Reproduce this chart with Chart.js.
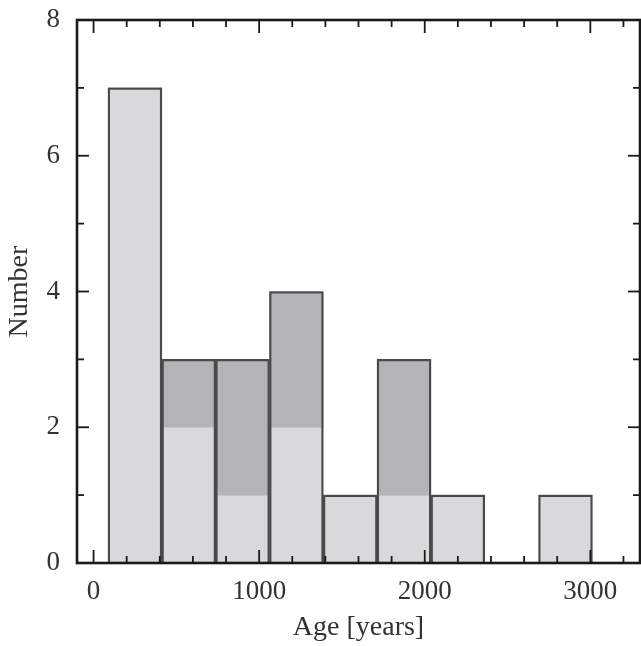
<!DOCTYPE html>
<html>
<head>
<meta charset="utf-8">
<script src="https://cdn.jsdelivr.net/npm/chart.js@4.4.0/dist/chart.umd.min.js"></script>
<style>
html,body{margin:0;padding:0;background:#fff;}
#wrap{width:641px;height:646px;}
</style>
</head>
<body>
<div id="wrap"><canvas id="c" width="641" height="646"></canvas></div>
<script>
// ---- data ----
const binCenters = [250, 575, 900, 1225, 1550, 1875, 2200, 2525, 2850]; // years
const lightCounts = [7, 2, 1, 2, 1, 1, 1, 0, 1];
const darkCounts  = [0, 1, 2, 2, 0, 2, 0, 0, 0];
const xMajorTicks = [0, 1000, 2000, 3000];
const xMinorTicks = [0,200,400,600,800,1000,1200,1400,1600,1800,2000,2200,2400,2600,2800,3000,3200];
const yMajorTicks = [0, 2, 4, 6, 8];
const yMinorTicks = [0,1,2,3,4,5,6,7,8];
const xLabel = 'Age [years]';
const yLabel = 'Number';

const totals = lightCounts.map((v,i)=>v+darkCounts[i]);
const lightData = binCenters.map((x,i)=>({x:x, y:[0, lightCounts[i]]}));
const darkData = binCenters.map((x,i)=>({x:x, y:[lightCounts[i], totals[i]]}));
const outlineData = binCenters.map((x,i)=>({x:x, y: totals[i]>0 ? [0, totals[i]] : null}));

const FONT = "'Liberation Serif', 'DejaVu Serif', serif";

const framePlugin = {
  id:'frame',
  afterDatasetsDraw(chart){
    const {ctx, chartArea:a, scales} = chart;
    const xs = scales.x, ys = scales.y;
    ctx.save();
    ctx.strokeStyle = '#1a1a1a';
    ctx.lineCap = 'butt';
    ctx.lineWidth = 1.8;
    const tick = (x1,y1,x2,y2)=>{ctx.beginPath();ctx.moveTo(x1,y1);ctx.lineTo(x2,y2);ctx.stroke();};
    xMinorTicks.forEach(v=>{
      const px = xs.getPixelForValue(v);
      const len = xMajorTicks.includes(v) ? 13 : 7;
      tick(px, a.bottom, px, a.bottom-len);
      tick(px, a.top, px, a.top+len);
    });
    yMinorTicks.forEach(v=>{
      const py = ys.getPixelForValue(v);
      const len = yMajorTicks.includes(v) ? 12 : 7;
      tick(a.left, py, a.left+len, py);
      tick(a.right, py, a.right-len, py);
    });
    ctx.lineWidth = 2.6;
    ctx.strokeRect(a.left, a.top, a.right-a.left, a.bottom-a.top);
    ctx.restore();
  }
};

new Chart(document.getElementById('c'), {
  type:'bar',
  data:{
    datasets:[
      {data:lightData, backgroundColor:'#d8d9db', borderWidth:0, grouped:false, barPercentage:1, categoryPercentage:1, order:3},
      {data:darkData, backgroundColor:'#b3b4b8', borderWidth:0, grouped:false, barPercentage:1, categoryPercentage:1, order:2},
      {data:outlineData, backgroundColor:'rgba(0,0,0,0)', borderColor:'#4a4a4a', borderWidth:1.6, grouped:false, barPercentage:1, categoryPercentage:1, order:1}
    ]
  },
  options:{
    responsive:false,
    animation:false,
    events:[],
    layout:{padding:{left:0, right:1, top:20, bottom:0}},
    plugins:{legend:{display:false}, tooltip:{enabled:false}},
    scales:{
      x:{
        type:'linear', min:-100, max:3300, offset:false,
        grid:{display:false, drawTicks:false},
        border:{display:false},
        afterBuildTicks:(s)=>{s.ticks = xMajorTicks.map(v=>({value:v}));},
        afterFit:(s)=>{s.height = 83; s.paddingLeft = 0; s.paddingRight = 0;},
        ticks:{font:{family:FONT, size:27}, color:'#333', padding:13, maxRotation:0,
               callback:(v)=>String(v)},
        title:{display:true, text:xLabel, font:{family:FONT, size:28}, color:'#333', padding:{top:0,bottom:2}}
      },
      y:{
        min:0, max:8,
        grid:{display:false, drawTicks:false},
        border:{display:false},
        afterBuildTicks:(s)=>{s.ticks = yMajorTicks.map(v=>({value:v}));},
        afterFit:(s)=>{s.width = 77; s.paddingTop = 0; s.paddingBottom = 0;},
        ticks:{font:{family:FONT, size:27}, color:'#333', padding:17,
               callback:(v)=>String(v)},
        title:{display:true, text:yLabel, font:{family:FONT, size:28}, color:'#333', padding:{top:3,bottom:0}}
      }
    }
  },
  plugins:[framePlugin]
});
</script>
</body>
</html>
